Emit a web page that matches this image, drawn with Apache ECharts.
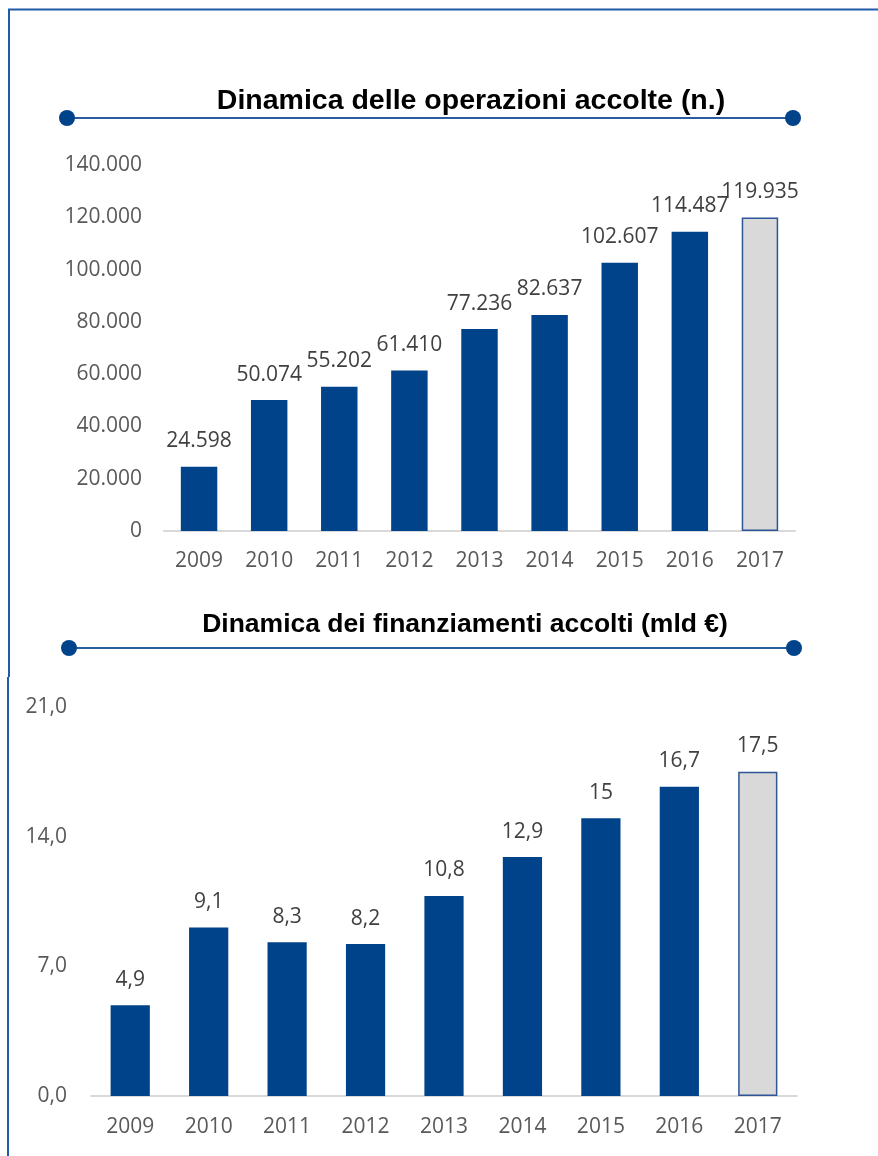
<!DOCTYPE html>
<html><head><meta charset="utf-8">
<script src="https://cdn.jsdelivr.net/npm/echarts@6/dist/echarts.min.js"></script>
<style>html,body{margin:0;padding:0;background:#fff}#c{width:878px;height:1156px}</style>
</head><body><div id="c"></div>
<script>
const years = ['2009','2010','2011','2012','2013','2014','2015','2016','2017'];
const operazioni = [24598, 50074, 55202, 61410, 77236, 82637, 102607, 114487, 119935];
const operazioniLabels = ['24.598','50.074','55.202','61.410','77.236','82.637','102.607','114.487','119.935'];
const finanziamenti = [4.9, 9.1, 8.3, 8.2, 10.8, 12.9, 15, 16.7, 17.5];
const finanziamentiLabels = ['4,9','9,1','8,3','8,2','10,8','12,9','15','16,7','17,5'];
const titleTop = 'Dinamica delle operazioni accolte (n.)';
const titleBottom = 'Dinamica dei finanziamenti accolti (mld €)';

const BLUE = '#00438A';
const GRAY = '#D9D9D9';
const FONT = '"Open Sans", sans-serif';

function mkData(vals, labels) {
  return vals.map((v, i) => {
    const last = i === vals.length - 1;
    return {
      value: v,
      label: { formatter: labels[i] },
      itemStyle: last ? { color: GRAY, borderColor: '#2F5597', borderWidth: 1.5 } : { color: BLUE }
    };
  });
}

const chart = echarts.init(document.getElementById('c'), null, { renderer: 'canvas' });
const axisLabel = { color: '#595959', fontFamily: FONT, fontSize: 21 };
const lineCol = '#2A5CA0';
chart.setOption({
  animation: false,
  title: [
    { text: titleTop, left: 466, top: 96, textAlign: 'center', textVerticalAlign: 'middle',
      textStyle: { fontFamily: '"Liberation Sans", Arial, sans-serif', fontWeight: 'bold', fontSize: 28.5, color: '#000' } },
    { text: titleBottom, left: 460, top: 620, textAlign: 'center', textVerticalAlign: 'middle',
      textStyle: { fontFamily: '"Liberation Sans", Arial, sans-serif', fontWeight: 'bold', fontSize: 26.5, color: '#000' } }
  ],
  grid: [
    { left: 164, right: 83, top: 165, height: 366 },
    { left: 91, right: 81, top: 707, height: 389 }
  ],
  xAxis: [
    { type: 'category', gridIndex: 0, data: years, axisTick: { show: false },
      axisLine: { lineStyle: { color: GRAY, width: 2 } }, axisLabel: Object.assign({ margin: 20 }, axisLabel) },
    { type: 'category', gridIndex: 1, data: years, axisTick: { show: false },
      axisLine: { lineStyle: { color: GRAY, width: 2 } }, axisLabel: Object.assign({ margin: 21 }, axisLabel) }
  ],
  yAxis: [
    { type: 'value', gridIndex: 0, min: 0, max: 140000, interval: 20000, splitLine: { show: false },
      axisLine: { show: false }, axisTick: { show: false },
      axisLabel: Object.assign({ margin: 22, formatter: v => v === 0 ? '0' : v.toLocaleString('de-DE') }, axisLabel) },
    { type: 'value', gridIndex: 1, min: 0, max: 21, interval: 7, splitLine: { show: false },
      axisLine: { show: false }, axisTick: { show: false },
      axisLabel: Object.assign({ margin: 24, formatter: v => v.toFixed(1).replace('.', ',') }, axisLabel) }
  ],
  series: [
    { type: 'bar', xAxisIndex: 0, yAxisIndex: 0, barWidth: '52%', data: mkData(operazioni, operazioniLabels),
      label: { show: true, position: 'top', distance: 15, color: '#404040', fontFamily: FONT, fontSize: 21 } },
    { type: 'bar', xAxisIndex: 1, yAxisIndex: 1, barWidth: '50%', data: mkData(finanziamenti, finanziamentiLabels),
      label: { show: true, position: 'top', distance: 15, color: '#404040', fontFamily: FONT, fontSize: 21 } }
  ],
  graphic: [
    { type: 'line', shape: { x1: 8, y1: 9.5, x2: 878, y2: 9.5 }, style: { stroke: '#1F5BA8', lineWidth: 2 } },
    { type: 'line', shape: { x1: 9, y1: 9, x2: 9, y2: 677 }, style: { stroke: '#1F5BA8', lineWidth: 2 } },
    { type: 'line', shape: { x1: 8, y1: 677, x2: 8, y2: 1156 }, style: { stroke: '#1F5BA8', lineWidth: 2 } },
    { type: 'line', shape: { x1: 67, y1: 118, x2: 793, y2: 118 }, style: { stroke: lineCol, lineWidth: 2 } },
    { type: 'circle', shape: { cx: 67, cy: 118, r: 8 }, style: { fill: BLUE } },
    { type: 'circle', shape: { cx: 793, cy: 118, r: 8 }, style: { fill: BLUE } },
    { type: 'line', shape: { x1: 69, y1: 648, x2: 794, y2: 648 }, style: { stroke: lineCol, lineWidth: 2 } },
    { type: 'circle', shape: { cx: 69, cy: 648, r: 8 }, style: { fill: BLUE } },
    { type: 'circle', shape: { cx: 794, cy: 648, r: 8 }, style: { fill: BLUE } }
  ]
});
</script></body></html>
